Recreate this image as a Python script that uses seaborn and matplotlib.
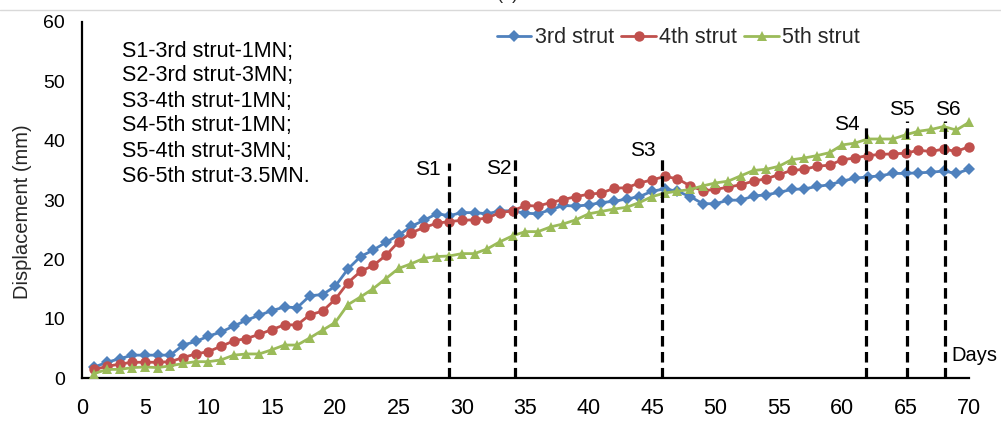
import numpy as np
import pandas as pd
import matplotlib
matplotlib.use("Agg")
import matplotlib.pyplot as plt
from matplotlib.lines import Line2D
import seaborn as sns

days = list(range(1, 71))

strut3 = [1.9, 2.7, 3.3, 3.9, 3.9, 3.9, 3.9, 5.6, 6.2, 7.1,
          7.8, 8.8, 9.8, 10.6, 11.4, 12.0, 11.9, 13.9, 14.1, 15.5,
          18.4, 20.5, 21.6, 22.9, 24.1, 25.6, 26.6, 27.7, 27.4, 27.9,
          27.9, 27.7, 28.2, 28.2, 27.8, 27.7, 28.4, 29.1, 29.0, 29.2,
          29.6, 29.8, 30.2, 30.6, 31.5, 31.9, 31.5, 30.6, 29.4, 29.4,
          30.0, 30.0, 30.7, 30.9, 31.3, 31.8, 31.9, 32.3, 32.6, 33.2,
          33.7, 33.9, 34.1, 34.5, 34.5, 34.6, 34.7, 34.9, 34.5, 35.2]

strut4 = [1.5, 2.0, 2.4, 2.7, 2.7, 2.7, 2.8, 3.5, 4.1, 4.5,
          5.4, 6.3, 6.7, 7.4, 8.2, 9.0, 9.0, 10.7, 11.3, 13.3,
          16.1, 18.0, 19.0, 20.7, 23.0, 24.5, 25.4, 26.1, 26.4, 26.6,
          26.7, 27.0, 27.9, 28.2, 29.1, 29.0, 29.6, 30.1, 30.6, 31.0,
          31.2, 32.0, 32.1, 32.9, 33.4, 34.0, 33.6, 32.4, 31.6, 31.8,
          32.2, 32.6, 33.2, 33.6, 34.3, 35.0, 35.2, 35.7, 35.9, 36.8,
          37.1, 37.5, 37.7, 37.8, 37.9, 38.4, 38.2, 38.6, 38.2, 39.0]

strut5 = [0.8, 1.5, 1.5, 1.8, 1.9, 1.8, 2.1, 2.5, 2.8, 2.8,
          3.1, 3.9, 4.1, 4.1, 4.8, 5.6, 5.6, 6.8, 8.1, 9.4,
          12.4, 13.7, 15.1, 16.8, 18.5, 19.3, 20.2, 20.5, 20.6, 21.0,
          21.0, 21.8, 23.0, 24.0, 24.7, 24.7, 25.5, 26.0, 26.7, 27.7,
          28.1, 28.5, 28.8, 29.6, 30.6, 31.2, 31.5, 31.8, 32.4, 32.9,
          33.2, 34.1, 35.0, 35.2, 35.7, 36.8, 37.1, 37.5, 38.0, 39.3,
          39.6, 40.3, 40.3, 40.3, 41.0, 41.6, 41.9, 42.4, 41.8, 43.1]

series_names = ["3rd strut", "4th strut", "5th strut"]

stage_labels = ["S1", "S2", "S3", "S4", "S5", "S6"]
stage_days = [29.0, 34.2, 45.8, 61.9, 65.1, 68.1]
stage_tops = [36.3, 37.1, 37.2, 43.0, 43.3, 43.3]

note_lines = ["S1-3rd strut-1MN;", "S2-3rd strut-3MN;", "S3-4th strut-1MN;",
              "S4-5th strut-1MN;", "S5-4th strut-3MN;", "S6-5th strut-3.5MN."]

x_ticks = list(range(0, 71, 5))
y_ticks = list(range(0, 61, 10))

df = pd.DataFrame({
    "day": days * 3,
    "disp": strut3 + strut4 + strut5,
    "series": sum([[n] * len(days) for n in series_names], []),
})

sns.set_theme(style="white")
plt.rcParams["font.family"] = ["Liberation Sans", "DejaVu Sans"]

colors = {"3rd strut": "#4F81BD", "4th strut": "#C0504D", "5th strut": "#9BBB59"}
markers = {"3rd strut": "D", "4th strut": "o", "5th strut": "^"}
msizes = {"3rd strut": 5.8, "4th strut": 7.5, "5th strut": 7.5}

# label placement (data coords of label centres)
label_xy = [(27.3, 35.1), (32.9, 35.4), (44.3, 38.4), (60.4, 42.7), (64.7, 45.3), (68.3, 45.3)]

fig = plt.figure(figsize=(10.01, 4.21), dpi=100)
ax = fig.add_axes([81.7 / 1001, 1 - 378.3 / 421, (969 - 81.7) / 1001, (378.3 - 22) / 421])

for name in series_names:
    sub = df[df["series"] == name]
    sns.lineplot(data=sub, x="day", y="disp", ax=ax, color=colors[name],
                 marker=markers[name], markersize=msizes[name],
                 markeredgewidth=0, linewidth=2.0, label=name, clip_on=False,
                 zorder=3)

for lab, d, top, (lx, ly) in zip(stage_labels, stage_days, stage_tops, label_xy):
    ax.plot([d, d], [0, top], color="black", linewidth=2.3,
            dashes=(3.3, 1.7), zorder=4, clip_on=False)
    ax.text(lx, ly, lab, ha="center", va="center", fontsize=15,
            color="black", zorder=5)

ax.text(68.6, 3.9, "Days", ha="left", va="center", fontsize=14.5, color="black")

ax.set_xlim(0, 70)
ax.set_ylim(0, 60)
ax.set_xticks(x_ticks)
ax.set_yticks(y_ticks)
ax.set_xlabel("")
ax.set_ylabel("Displacement (mm)", fontsize=14.5)
ax.yaxis.set_label_coords(-0.056, 0.467)

for s in ["top", "right"]:
    ax.spines[s].set_visible(False)
for s in ["left", "bottom"]:
    ax.spines[s].set_color("black")
    ax.spines[s].set_linewidth(1.6)

ax.tick_params(axis="both", direction="in", length=5, width=1.5, color="black",
               labelcolor="black")
ax.tick_params(axis="x", labelsize=15.5, pad=14)
ax.tick_params(axis="y", labelsize=14, pad=12)
ax.grid(False)

leg = ax.legend(loc="center left", bbox_to_anchor=(497 / 1001, 1 - 37.7 / 421),
                bbox_transform=fig.transFigure, ncol=3, frameon=False,
                fontsize=15.5, handlelength=1.6, handletextpad=0.15,
                columnspacing=0.35, borderpad=0, borderaxespad=0)

for i, line in enumerate(note_lines):
    fig.text(121.7 / 1001, 1 - (56.5 + 25.0 * i) / 421, line, ha="left",
             va="baseline", fontsize=15.5, color="black")

fig.add_artist(Line2D([0, 1], [1 - 10 / 421, 1 - 10 / 421], color="#d9d9d9",
                      linewidth=1.0, transform=fig.transFigure))
fig.text(508 / 1001, 1 + 1 / 421, "(a)", ha="center", va="baseline", fontsize=13)

fig.savefig("out.png", dpi=100)
